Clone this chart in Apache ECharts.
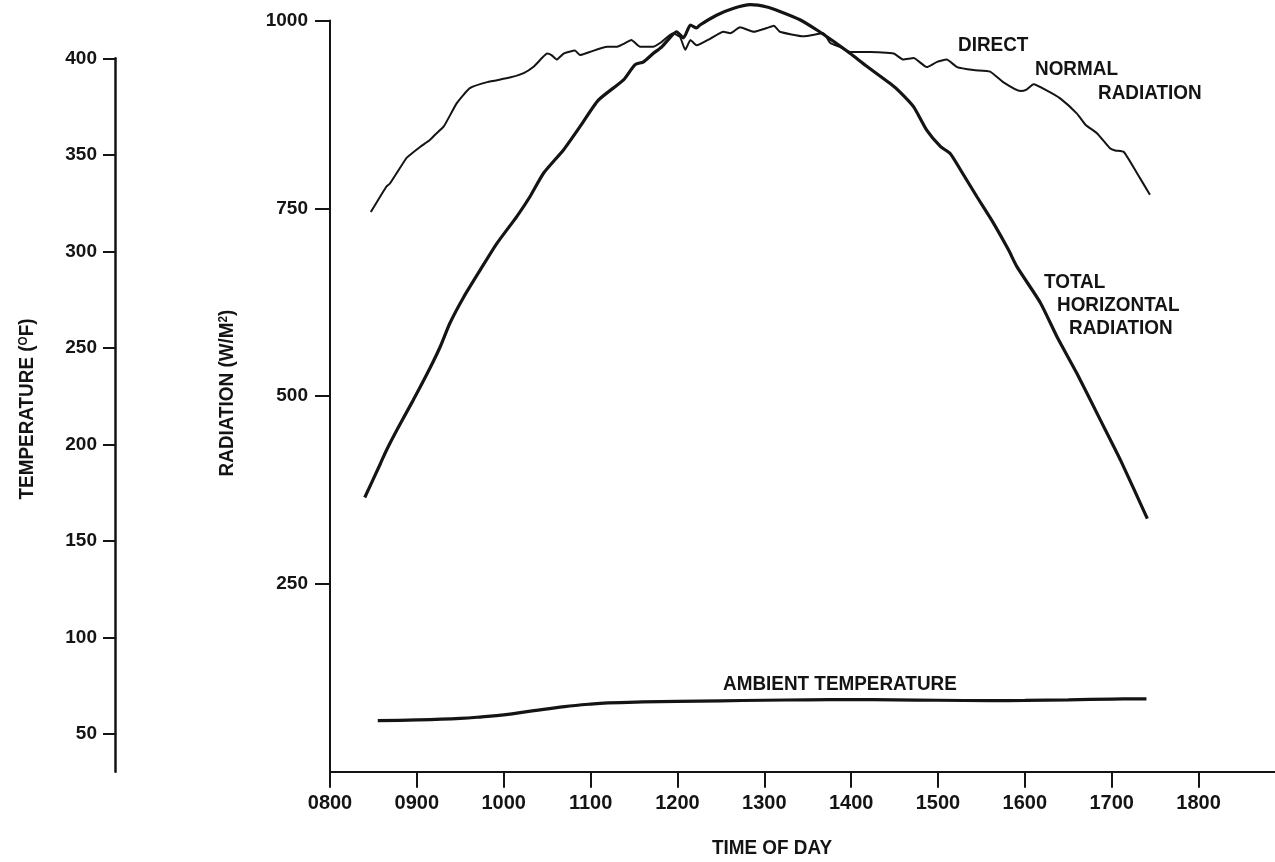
<!DOCTYPE html>
<html><head><meta charset="utf-8">
<script src="https://cdn.jsdelivr.net/npm/echarts@6/dist/echarts.min.js"></script>
<style>html,body{margin:0;padding:0;background:#fff}#c{width:1275px;height:862px}</style>
</head><body><div id="c"></div>
<script>
const FONT = "'Liberation Sans','Arial',sans-serif";
const INK = '#141414';

// Time of day in hours
const timeTicks = [8, 9, 10, 11, 12, 13, 14, 15, 16, 17, 18];
const timeTickLabels = ['0800', '0900', '1000', '1100', '1200', '1300', '1400', '1500', '1600', '1700', '1800'];
const radiationTicks = [250, 500, 750, 1000];
const temperatureTicks = [50, 100, 150, 200, 250, 300, 350, 400];

// Direct normal radiation (W/m2) [hour, value]
const directNormal = [
  [8.47, 745], [8.65, 779], [8.69, 783], [8.88, 817], [8.92, 821], [9.04, 832], [9.15, 841],
  [9.21, 848], [9.31, 859], [9.46, 890], [9.61, 910], [9.81, 918], [10.07, 924], [10.23, 930],
  [10.34, 938], [10.44, 950], [10.50, 956], [10.55, 954], [10.61, 948], [10.69, 956], [10.82, 960],
  [10.88, 954], [10.99, 958], [11.19, 965], [11.30, 965], [11.38, 969], [11.47, 974], [11.57, 965],
  [11.72, 965], [11.80, 970], [11.95, 983], [12.03, 978], [12.09, 961], [12.15, 974], [12.22, 967],
  [12.38, 976], [12.53, 985], [12.61, 983], [12.72, 991], [12.88, 985], [13.03, 990], [13.11, 993],
  [13.18, 985], [13.45, 979], [13.68, 983], [13.76, 970], [13.87, 965], [13.99, 958], [14.22, 958],
  [14.49, 956], [14.60, 948], [14.72, 950], [14.87, 938], [14.99, 945], [15.10, 948], [15.22, 938],
  [15.41, 934], [15.60, 932], [15.75, 918], [15.95, 906], [16.02, 908], [16.10, 915], [16.25, 907],
  [16.41, 896], [16.60, 876], [16.70, 861], [16.83, 850], [16.98, 830], [17.04, 827], [17.14, 825],
  [17.29, 797], [17.44, 768]
];

// Total horizontal radiation (W/m2) [hour, value]
const totalHorizontal = [
  [8.40, 365], [8.58, 410], [8.65, 428], [8.77, 455], [8.96, 495], [9.15, 537], [9.27, 566],
  [9.38, 597], [9.54, 632], [9.73, 668], [9.92, 703], [10.15, 739], [10.30, 765], [10.46, 797],
  [10.69, 828], [10.88, 859], [11.09, 894], [11.38, 921], [11.51, 941], [11.61, 945], [11.72, 956],
  [11.82, 965], [11.92, 978], [11.99, 985], [12.07, 977], [12.15, 994], [12.22, 990], [12.26, 994],
  [12.45, 1007], [12.64, 1016], [12.84, 1021], [13.03, 1018], [13.18, 1012], [13.41, 1001],
  [13.61, 987], [13.80, 972], [13.99, 956], [14.18, 939], [14.45, 916], [14.56, 905], [14.72, 885],
  [14.87, 854], [15.03, 832], [15.14, 823], [15.26, 801], [15.45, 765], [15.64, 730], [15.81, 695],
  [15.91, 672], [16.18, 624], [16.37, 579], [16.60, 530], [16.87, 468], [17.10, 415], [17.41, 337]
];

// Ambient temperature (deg F) [hour, value]
const ambientTemperature = [
  [8.55, 57.0], [9.0, 57.4], [9.5, 58.2], [9.75, 59.0], [10.0, 60.0], [10.35, 62.2], [10.7, 64.3],
  [11.0, 65.6], [11.2, 66.2], [11.6, 66.7], [12.0, 67.0], [12.5, 67.3], [13.0, 67.6], [13.5, 67.8],
  [14.0, 67.9], [14.5, 67.8], [15.0, 67.6], [15.6, 67.4], [16.0, 67.5], [16.5, 67.8], [17.0, 68.2],
  [17.4, 68.3]
];

const chart = echarts.init(document.getElementById('c'), null, {renderer: 'canvas'});
const lbl = (size) => ({color: INK, fontFamily: FONT, fontWeight: 'bold', fontSize: size});
const SX = 0.9;

function gtext(text, x, y, size) {
  return {
    type: 'text', x: x, y: y, scaleX: SX,
    style: {text: text, fill: INK, font: 'bold ' + size + 'px ' + FONT, textVerticalAlign: 'middle'}
  };
}

chart.setOption({
  animation: false,
  backgroundColor: '#fff',
  grid: [
    {left: 330, top: 20.5, width: 945, height: 751.2},
    {left: 115.5, top: 58.3, width: 1, height: 713.4}
  ],
  xAxis: [
    {
      gridIndex: 0, type: 'value', min: 8, max: 18.88,
      axisLine: {show: true, lineStyle: {color: INK, width: 2}},
      axisTick: {show: true, customValues: timeTicks, length: 16, lineStyle: {color: INK, width: 2}},
      axisLabel: Object.assign({
        customValues: timeTicks, margin: 22,
        formatter: v => timeTickLabels[timeTicks.indexOf(v)] || ''
      }, lbl(20)),
      splitLine: {show: false}
    },
    {gridIndex: 1, type: 'value', min: 0, max: 1, show: false}
  ],
  yAxis: [
    {
      gridIndex: 0, type: 'value', min: 0, max: 1000,
      axisLine: {show: true, lineStyle: {color: INK, width: 2}},
      axisTick: {show: true, customValues: radiationTicks, length: 15, lineStyle: {color: INK, width: 2}},
      axisLabel: Object.assign({customValues: radiationTicks, margin: 22, formatter: v => String(v)}, lbl(19)),
      splitLine: {show: false}
    },
    {
      gridIndex: 0, type: 'value', min: 30.6, max: 419.5, show: false, splitLine: {show: false}
    },
    {
      gridIndex: 1, type: 'value', min: 30.6, max: 400,
      axisLine: {show: true, lineStyle: {color: INK, width: 2.5}},
      axisTick: {show: true, customValues: temperatureTicks, length: 12.5, lineStyle: {color: INK, width: 2}},
      axisLabel: Object.assign({customValues: temperatureTicks, margin: 18.5, formatter: v => String(v)}, lbl(19)),
      splitLine: {show: false}
    }
  ],
  series: [
    {
      name: 'DIRECT NORMAL RADIATION', type: 'line', xAxisIndex: 0, yAxisIndex: 0,
      data: directNormal, showSymbol: false, smooth: 0.15, clip: false,
      lineStyle: {color: INK, width: 2}
    },
    {
      name: 'TOTAL HORIZONTAL RADIATION', type: 'line', xAxisIndex: 0, yAxisIndex: 0,
      data: totalHorizontal, showSymbol: false, smooth: 0.2, clip: false,
      lineStyle: {color: INK, width: 3.2}
    },
    {
      name: 'AMBIENT TEMPERATURE', type: 'line', xAxisIndex: 0, yAxisIndex: 1,
      data: ambientTemperature, showSymbol: false, smooth: 0.4, clip: false,
      lineStyle: {color: INK, width: 3.2}
    }
  ],
  graphic: [
    gtext('DIRECT', 958, 45, 21),
    gtext('NORMAL', 1035, 69, 21),
    gtext('RADIATION', 1098, 93, 21),
    gtext('TOTAL', 1044, 282, 21),
    gtext('HORIZONTAL', 1057, 305, 21),
    gtext('RADIATION', 1069, 328, 21),
    gtext('AMBIENT TEMPERATURE', 723, 684, 21),
    {
      type: 'text', x: 772, y: 848, scaleX: SX,
      style: {text: 'TIME OF DAY', fill: INK, font: 'bold 21px ' + FONT, textAlign: 'center', textVerticalAlign: 'middle'}
    },
    {
      type: 'text', x: 27, y: 409, rotation: Math.PI / 2, scaleX: SX,
      style: {
        text: '{a|TEMPERATURE (}{s|O}{a|F)}', textAlign: 'center', textVerticalAlign: 'middle',
        rich: {
          a: {fill: INK, font: 'bold 21px ' + FONT},
          s: {fill: INK, font: 'bold 13px ' + FONT, verticalAlign: 'top', padding: [0, 0, 8, 0]}
        }
      }
    },
    {
      type: 'text', x: 227, y: 393, rotation: Math.PI / 2, scaleX: SX,
      style: {
        text: '{a|RADIATION (W/M}{s|2}{a|)}', textAlign: 'center', textVerticalAlign: 'middle',
        rich: {
          a: {fill: INK, font: 'bold 21px ' + FONT},
          s: {fill: INK, font: 'bold 13px ' + FONT, verticalAlign: 'top', padding: [0, 0, 8, 0]}
        }
      }
    }
  ]
});
</script>
</body></html>
